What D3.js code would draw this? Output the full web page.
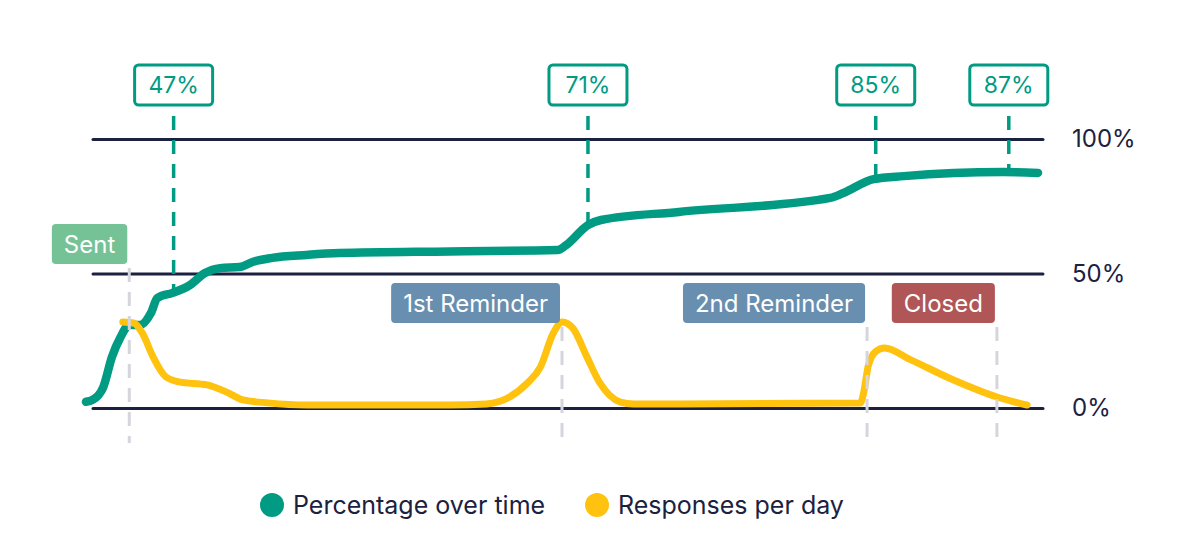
<!DOCTYPE html>
<html>
<head>
<meta charset="utf-8">
<script src="https://cdn.jsdelivr.net/npm/d3@7"></script>
<style>
  body { margin: 0; background: #fff; }
  svg { font-family: Inter, "Noto Sans", sans-serif; }
</style>
</head>
<body>
<div id="chart"></div>
<script>
// Percentage over time (day, %)
const pctDays = [0, 0.3, 0.8, 1.2, 1.6, 2.0, 2.5, 3.0, 3.3, 4.0, 4.8, 5.5, 6.2, 7.1, 7.7, 8.6, 10.2, 11.7, 16.8, 21.8, 22.2, 23.2, 23.8, 27.4, 34.4, 35.0, 36.4, 37.8, 42.4, 44];
const pctValues = [2.3, 3.0, 7.8, 19.0, 26.4, 30.9, 30.9, 35.3, 40.9, 42.8, 45.7, 50.2, 52.0, 52.4, 54.3, 55.8, 56.9, 57.6, 58.2, 58.7, 60.6, 68.0, 69.9, 72.9, 78.1, 79.9, 85.1, 86.2, 87.7, 87.4];

// Responses per day (day, %)
const respDays = [1.7, 2.2, 2.6, 3.1, 3.7, 4.3, 5.6, 6.5, 7.25, 8.4, 10.2, 11.7, 16.8, 18.5, 20.4, 21.0, 21.6, 22.0, 22.5, 23.15, 23.75, 24.7, 25.3, 27.4, 35.8, 35.95, 36.15, 36.5, 36.9, 38.1, 40.1, 42.1, 43.5];
const respValues = [32.0, 31.6, 27.9, 19.0, 11.5, 9.7, 8.6, 5.9, 3.0, 1.9, 1.1, 1.1, 1.1, 1.5, 9.3, 15.2, 27.9, 32.0, 29.7, 19.0, 9.3, 2.2, 1.5, 1.5, 1.9, 6.0, 15.5, 21.0, 22.3, 18.0, 10.4, 4.1, 1.1];

// Events
const eventNames = ["Sent", "1st Reminder", "2nd Reminder", "Closed"];
const eventDays = [2.0, 22.0, 36.1, 42.1];
const eventColors = ["#74c295", "#688fb0", "#688fb0", "#b05656"];

// Callouts
const calloutDays = [4.05, 23.2, 36.5, 42.65];
const calloutLabels = ["47%", "71%", "85%", "87%"];

// Y ticks
const yTicks = [0, 50, 100];
const yTickLabels = ["0%", "50%", "100%"];

const legendNames = ["Percentage over time", "Responses per day"];
const legendColors = ["#009b82", "#ffc20e"];

const W = 1186, H = 544;
const ink = "#1c2140";

const x = d3.scaleLinear().domain([0, 44]).range([86, 1038]);
const y = d3.scaleLinear().domain([0, 100]).range([408, 139]);

const svg = d3.select("#chart").append("svg")
  .attr("width", W)
  .attr("height", H);

// Grid lines + tick labels
svg.append("g")
  .attr("transform", "translate(1043,0)")
  .call(d3.axisRight(y)
    .tickValues(yTicks)
    .tickSize(-950)
    .tickPadding(29)
    .tickFormat((d, i) => yTickLabels[i]))
  .call(g => g.select(".domain").remove())
  .call(g => g.selectAll(".tick line")
    .attr("stroke", ink)
    .attr("stroke-width", 3)
    .attr("stroke-linecap", "round"))
  .call(g => g.selectAll(".tick text")
    .attr("fill", ink)
    .attr("font-size", 24)
    .attr("font-family", "Inter, sans-serif"));

// value of the green line at a given day
function pctAt(day) {
  const i = d3.bisectLeft(pctDays, day);
  if (i <= 0) return pctValues[0];
  if (i >= pctDays.length) return pctValues[pctValues.length - 1];
  const t = (day - pctDays[i - 1]) / (pctDays[i] - pctDays[i - 1]);
  return pctValues[i - 1] + t * (pctValues[i] - pctValues[i - 1]);
}

// Callout dashed lines and boxes
const callouts = svg.append("g");
calloutDays.forEach((d, i) => {
  const cx = x(d);
  callouts.append("line")
    .attr("x1", cx).attr("x2", cx)
    .attr("y1", 116)
    .attr("y2", y(pctAt(d)))
    .attr("stroke", "#009b82")
    .attr("stroke-width", 3.5)
    .attr("stroke-dasharray", "14 10");
  callouts.append("rect")
    .attr("x", cx - 39).attr("y", 65)
    .attr("width", 78).attr("height", 40)
    .attr("rx", 4)
    .attr("fill", "#fff")
    .attr("stroke", "#009b82")
    .attr("stroke-width", 3);
  callouts.append("text")
    .attr("x", cx).attr("y", 85)
    .attr("dy", "0.36em")
    .attr("text-anchor", "middle")
    .attr("fill", "#009b82")
    .attr("font-size", 23)
    .text(calloutLabels[i]);
});

// Lines
const pctLine = d3.line()
  .x((d, i) => x(pctDays[i]))
  .y(d => y(d))
  .curve(d3.curveMonotoneX);

svg.append("path")
  .datum(pctValues)
  .attr("d", pctLine)
  .attr("fill", "none")
  .attr("stroke", "#009b82")
  .attr("stroke-width", 8.5)
  .attr("stroke-linecap", "round")
  .attr("stroke-linejoin", "round");

const respLine = d3.line()
  .x((d, i) => x(respDays[i]))
  .y(d => y(d))
  .curve(d3.curveMonotoneX);

svg.append("path")
  .datum(respValues)
  .attr("d", respLine)
  .attr("fill", "none")
  .attr("stroke", "#ffc20e")
  .attr("stroke-width", 7)
  .attr("stroke-linecap", "round")
  .attr("stroke-linejoin", "round");

// Events: dashed gray line + label box
const events = svg.append("g");
eventNames.forEach((name, i) => {
  const ex = x(eventDays[i]);
  const top = i === 0 ? 224 : 283;
  const t = events.append("text")
    .attr("y", top + 20)
    .attr("dy", "0.36em")
    .attr("fill", "#fff")
    .attr("font-size", 24)
    .attr("text-anchor", "end")
    .attr("x", ex - 14)
    .text(name);
  const w = t.node().getComputedTextLength() + 24;
  events.insert("rect", "text")
    .attr("x", ex - 2 - w).attr("y", top)
    .attr("width", w).attr("height", 40)
    .attr("rx", 4)
    .attr("fill", eventColors[i]);
  events.append("line")
    .attr("x1", ex).attr("x2", ex)
    .attr("y1", top + 44).attr("y2", 443)
    .attr("stroke", "#d5d5de")
    .attr("stroke-width", 3)
    .attr("stroke-dasharray", "14 10");
});

// Legend
const legendX = [272, 597];
const legend = svg.append("g");
legendNames.forEach((name, i) => {
  legend.append("circle")
    .attr("cx", legendX[i]).attr("cy", 505)
    .attr("r", 12)
    .attr("fill", legendColors[i]);
  legend.append("text")
    .attr("x", legendX[i] + 21).attr("y", 505)
    .attr("dy", "0.36em")
    .attr("fill", ink)
    .attr("font-size", 25)
    .text(name);
});
</script>
</body>
</html>
